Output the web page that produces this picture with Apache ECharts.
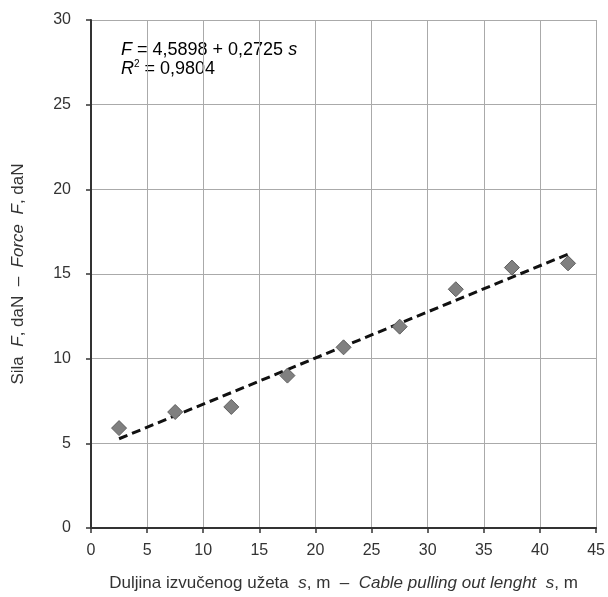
<!DOCTYPE html>
<html><head><meta charset="utf-8">
<script src="https://cdn.jsdelivr.net/npm/echarts@6/dist/echarts.min.js"></script>
<style>html,body{margin:0;padding:0;background:#fff}#c{width:608px;height:597px}</style>
</head><body><div id="c"></div>
<script>
const lengths = [2.5, 7.5, 12.5, 17.5, 22.5, 27.5, 32.5, 37.5, 42.5];
const forces = [5.9, 6.85, 7.15, 9.0, 10.67, 11.89, 14.1, 15.38, 15.63];
const trendX = [2.5, 42.5];
const trendY = [5.27, 16.17];
const xTicks = [0, 5, 10, 15, 20, 25, 30, 35, 40, 45];
const yTicks = [0, 5, 10, 15, 20, 25, 30];

const font = '"Liberation Sans Narrow", "Arial Narrow", sans-serif';
const chart = echarts.init(document.getElementById('c'));
chart.setOption({
  animation: false,
  backgroundColor: '#fff',
  grid: {left: 91, right: 11, top: 20, bottom: 69},
  xAxis: {
    type: 'value', min: xTicks[0], max: xTicks[xTicks.length-1], interval: 5,
    axisLine: {show: true, onZero: false, lineStyle: {color: '#333', width: 2}},
    axisTick: {show: true, length: 5, lineStyle: {color: '#333', width: 1.5}},
    splitLine: {show: true, lineStyle: {color: '#aaa', width: 1}},
    axisLabel: {color: '#333', fontFamily: font, fontSize: 16, margin: 15},
    name: '{n|Duljina izvučenog užeta  }{i|s}{n|, m  –  }{i|Cable pulling out lenght  s}{n|, m}',
    nameLocation: 'middle', nameGap: 47,
    nameTextStyle: {rich: {n: {fontFamily: font, fontSize: 17, color: '#333'}, i: {fontFamily: font, fontSize: 17, color: '#333', fontStyle: 'italic'}}}
  },
  yAxis: {
    type: 'value', min: yTicks[0], max: yTicks[yTicks.length-1], interval: 5,
    axisLine: {show: true, lineStyle: {color: '#333', width: 2}},
    axisTick: {show: true, length: 5, lineStyle: {color: '#333', width: 1.5}},
    splitLine: {show: true, lineStyle: {color: '#aaa', width: 1}},
    axisLabel: {color: '#333', fontFamily: font, fontSize: 16, margin: 20},
    name: '{n|Sila  }{i|F}{n|, daN  –  }{i|Force  F}{n|, daN}',
    nameLocation: 'middle', nameGap: 64,
    nameTextStyle: {rich: {n: {fontFamily: font, fontSize: 17, color: '#333'}, i: {fontFamily: font, fontSize: 17, color: '#333', fontStyle: 'italic'}}}
  },
  graphic: [{
    type: 'text', left: 121, top: 41,
    style: {
      text: '{i|F}{n| = 4,5898 + 0,2725 }{i|s}\n{i|R}{s|2}{n| = 0,9804}',
      rich: {
        n: {fontFamily: font, fontSize: 18, color: '#333', lineHeight: 19},
        i: {fontFamily: font, fontSize: 18, color: '#333', fontStyle: 'italic', lineHeight: 19},
        s: {fontFamily: font, fontSize: 10, color: '#333', verticalAlign: 'top', lineHeight: 19}
      }
    }
  }],
  series: [{
    type: 'line', data: trendX.map((x, i) => [x, trendY[i]]),
    showSymbol: false, symbol: 'none',
    lineStyle: {color: '#111', width: 3, type: [9, 5]}, z: 2
  }, {
    type: 'scatter', data: lengths.map((x, i) => [x, forces[i]]),
    symbol: 'diamond', symbolSize: 15,
    itemStyle: {color: '#808080', borderColor: '#5e5e5e', borderWidth: 1, opacity: 1}, z: 3
  }]
});
</script></body></html>
